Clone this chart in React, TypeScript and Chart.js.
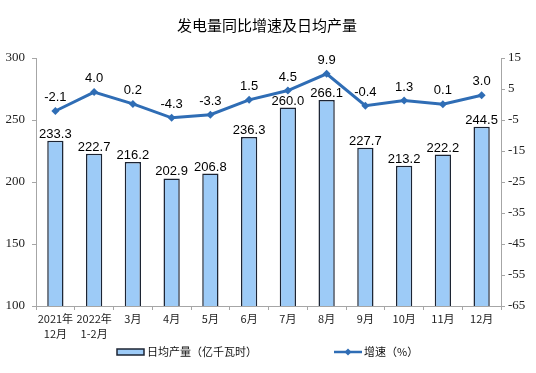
import React, { useEffect, useRef } from "react";
import { Chart, registerables } from "chart.js";

Chart.register(...registerables);

const categories: (string | string[])[] = [
  ["2021年", "12月"],
  ["2022年", "1-2月"],
  "3月",
  "4月",
  "5月",
  "6月",
  "7月",
  "8月",
  "9月",
  "10月",
  "11月",
  "12月",
];
const dailyOutput = [233.3, 222.7, 216.2, 202.9, 206.8, 236.3, 260.0, 266.1, 227.7, 213.2, 222.2, 244.5];
const growthRate = [-2.1, 4.0, 0.2, -4.3, -3.3, 1.5, 4.5, 9.9, -0.4, 1.3, 0.1, 3.0];
const titleText = "发电量同比增速及日均产量";
const barLegend = "日均产量（亿千瓦时）";
const lineLegend = "增速（%）";

const BAR_FILL = "#9DCBF7";
const BAR_BORDER = "#1c2433";
const LINE_COLOR = "#2F6DB5";
const AXIS_COLOR = "#A6A6A6";
const CJK = "'Noto Sans CJK SC', sans-serif";
const SERIF = "'Liberation Serif', 'DejaVu Serif', serif";
const SANS = "'Liberation Sans', Arial, sans-serif";

const decorPlugin = {
  id: "decor",
  afterDatasetsDraw(chart: any) {
    const ctx = chart.ctx;
    ctx.save();
    ctx.fillStyle = "#000";
    ctx.font = `13px ${SANS}`;
    ctx.textAlign = "center";
    ctx.textBaseline = "bottom";
    const barMeta = chart.getDatasetMeta(1);
    barMeta.data.forEach((el: any, i: number) => {
      ctx.fillText(dailyOutput[i].toFixed(1), el.x, el.y);
    });
    const lineMeta = chart.getDatasetMeta(0);
    lineMeta.data.forEach((el: any, i: number) => {
      ctx.fillText(growthRate[i].toFixed(1), el.x, el.y - 7);
    });
    ctx.restore();
  },
  afterDraw(chart: any) {
    const ctx = chart.ctx;
    ctx.save();
    ctx.fillStyle = "#000";
    ctx.font = `15px ${CJK}`;
    ctx.textAlign = "center";
    ctx.textBaseline = "middle";
    ctx.fillText(titleText, 267, 25);
    const ly = 352;
    ctx.fillStyle = BAR_FILL;
    ctx.fillRect(117, ly - 3, 27, 6);
    ctx.strokeStyle = BAR_BORDER;
    ctx.lineWidth = 1.5;
    ctx.strokeRect(117, ly - 3, 27, 6);
    ctx.fillStyle = "#111";
    ctx.font = `11px ${CJK}`;
    ctx.textAlign = "left";
    ctx.fillText(barLegend, 147, ly);
    ctx.strokeStyle = LINE_COLOR;
    ctx.lineWidth = 2.5;
    ctx.beginPath();
    ctx.moveTo(334, ly);
    ctx.lineTo(362, ly);
    ctx.stroke();
    ctx.fillStyle = LINE_COLOR;
    ctx.beginPath();
    ctx.moveTo(348, ly - 3.5);
    ctx.lineTo(351.5, ly);
    ctx.lineTo(348, ly + 3.5);
    ctx.lineTo(344.5, ly);
    ctx.closePath();
    ctx.fill();
    ctx.fillStyle = "#111";
    ctx.fillText(lineLegend, 364, ly);
    ctx.restore();
  },
};

export default function App() {
  const ref = useRef<HTMLCanvasElement | null>(null);
  useEffect(() => {
    document.body.style.margin = "0";
    const canvas = ref.current;
    if (!canvas) return;
    const chart = new Chart(canvas, {
      type: "bar",
      data: {
        labels: categories,
        datasets: [
          {
            type: "line",
            label: lineLegend,
            data: growthRate,
            yAxisID: "y1",
            borderColor: LINE_COLOR,
            backgroundColor: LINE_COLOR,
            borderWidth: 3,
            pointStyle: "rectRot",
            pointRadius: 4,
            pointBorderWidth: 0,
            tension: 0,
            order: 0,
          } as any,
          {
            type: "bar",
            label: barLegend,
            data: dailyOutput,
            yAxisID: "y",
            backgroundColor: BAR_FILL,
            borderColor: BAR_BORDER,
            borderWidth: 1.5,
            categoryPercentage: 1,
            barPercentage: 0.42,
            order: 1,
          } as any,
        ],
      },
      options: {
        responsive: false,
        animation: false,
        devicePixelRatio: 1,
        layout: { padding: { top: 58, left: 0, right: 0, bottom: 0 } },
        plugins: {
          legend: { display: false },
          title: { display: false },
          tooltip: { enabled: false },
        },
        scales: {
          x: {
            offset: true,
            grid: {
              display: true,
              drawOnChartArea: false,
              offset: true,
              tickLength: 4,
              color: AXIS_COLOR,
            },
            border: { color: AXIS_COLOR, width: 1 },
            ticks: {
              color: "#222",
              font: { family: CJK, size: 11, lineHeight: 1.3 },
              padding: 2,
              maxRotation: 0,
              autoSkip: false,
            },
            afterFit(scale: any) {
              scale.height = 67;
            },
          },
          y: {
            position: "left",
            min: 100,
            max: 300,
            grid: { drawOnChartArea: false, tickLength: 4, color: AXIS_COLOR },
            border: { color: AXIS_COLOR, width: 1 },
            ticks: {
              stepSize: 50,
              color: "#222",
              font: { family: SERIF, size: 13 },
              padding: 7,
            },
            afterFit(scale: any) {
              scale.width = 36;
            },
          },
          y1: {
            position: "right",
            min: -65,
            max: 15,
            grid: { drawOnChartArea: false, tickLength: 4, color: AXIS_COLOR },
            border: { color: AXIS_COLOR, width: 1 },
            ticks: {
              stepSize: 10,
              color: "#222",
              font: { family: SERIF, size: 13 },
              padding: 3,
            },
            afterFit(scale: any) {
              scale.width = 35;
            },
          },
        },
      },
      plugins: [decorPlugin],
    });
    return () => chart.destroy();
  }, []);
  return (
    <div style={{ width: 536, height: 373 }}>
      <canvas ref={ref} width={536} height={373} style={{ display: "block" }} />
    </div>
  );
}
